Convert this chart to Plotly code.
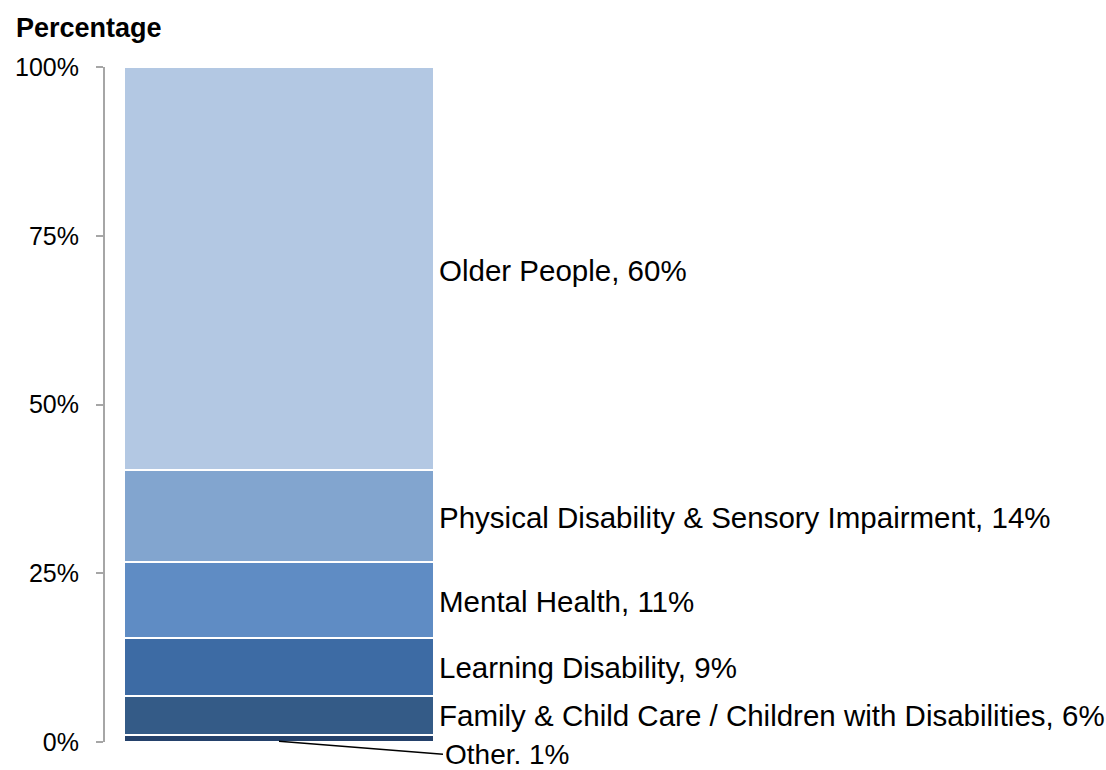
import plotly.graph_objects as go

categories = ["Other", "Family & Child Care / Children with Disabilities", "Learning Disability",
              "Mental Health", "Physical Disability & Sensory Impairment", "Older People"]
values = [1.0, 5.8, 8.6, 11.3, 13.6, 59.7]
label_pct = ["1%", "6%", "9%", "11%", "14%", "60%"]
colors = ["#24416B", "#345B87", "#3D6BA4", "#5F8CC4", "#82A5CF", "#B3C8E3"]
tick_vals = [0, 25, 50, 75, 100]
tick_text = ["0%", "25%", "50%", "75%", "100%"]

FONT = "Liberation Sans, Arial, sans-serif"

fig = go.Figure()
for cat, v, c in zip(categories, values, colors):
    fig.add_trace(go.Bar(x=[0], y=[v], name=cat, width=1,
                         marker=dict(color=c, line=dict(color="white", width=2)),
                         hoverinfo="skip", showlegend=False))

annotations = []
cum = 0.0
for cat, v, p in zip(categories, values, label_pct):
    mid = cum + v / 2
    if cat == "Other":
        annotations.append(dict(x=0, y=cum + 0.1, xref="x", yref="y",
                                text=f"{cat}. {p}", showarrow=True, arrowhead=0,
                                arrowwidth=1.5, arrowcolor="black",
                                ax=164, ay=13, xanchor="left", yanchor="middle",
                                font=dict(family=FONT, size=28, color="black")))
    else:
        annotations.append(dict(x=0.5, y=mid, xref="x", yref="y",
                                text=f"{cat}, {p}", showarrow=False,
                                xanchor="left", yanchor="middle", xshift=3,
                                yshift=-2 if mid > 20 else 0,
                                font=dict(family=FONT, size=29.5, color="black")))
    cum += v

annotations.append(dict(xref="paper", yref="paper", x=(14 - 105) / 1001,
                        y=(742 - 28) / 675, text="<b>Percentage</b>",
                        showarrow=False, xanchor="left", yanchor="middle",
                        font=dict(family=FONT, size=27, color="black")))

fig.update_layout(
    barmode="stack",
    width=1106, height=770,
    margin=dict(l=105, r=0, t=67, b=28),
    paper_bgcolor="white", plot_bgcolor="white",
    annotations=annotations,
    bargap=0,
)

fig.update_xaxes(range=[-0.5613, 2.668], visible=False, fixedrange=True)
fig.update_yaxes(range=[0, 100], tickvals=tick_vals, ticktext=tick_text,
                 showgrid=False, zeroline=False, showline=True, linecolor="#A6A6A6",
                 linewidth=2, ticks="outside", ticklen=7, tickcolor="#A6A6A6", tickwidth=2,
                 ticklabelstandoff=12,
                 tickfont=dict(family=FONT, size=25, color="black"), fixedrange=True)

fig.write_html("out.html", config={"displayModeBar": False},
               post_script="document.body.style.margin='0';document.body.style.overflow='hidden';")
